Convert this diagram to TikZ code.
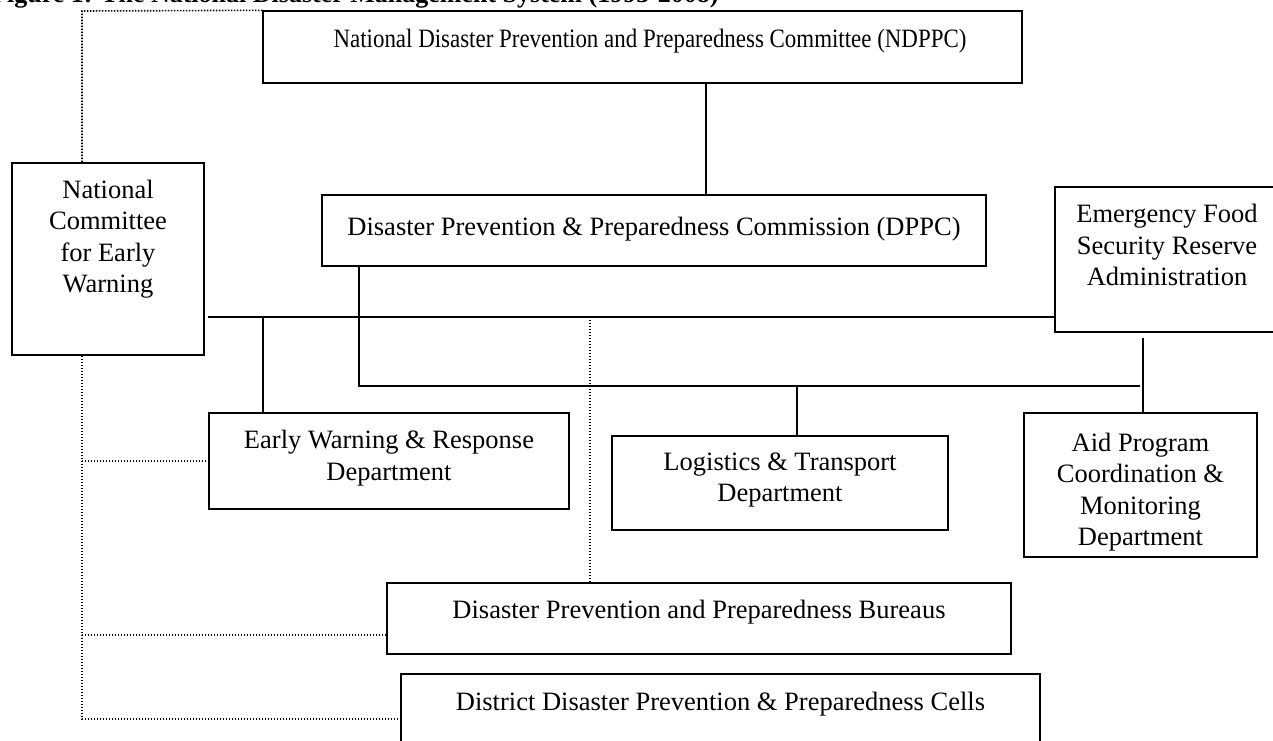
\documentclass[tikz,border=0pt]{standalone}
\usepackage{fontspec}
\setmainfont{Liberation Serif}
\usetikzlibrary{calc}
\begin{document}
\begin{tikzpicture}[x=1pt,y=-1pt,
  box/.style={draw, line width=1.4pt, rectangle, inner sep=0pt},
  txt/.style={align=center, font=\fontsize{26.5}{31.5}\selectfont, inner sep=0pt},
  link/.style={line width=1.4pt},
  dots/.style={line width=1.6pt, dash pattern=on 1.4pt off 1.6pt}]
\useasboundingbox (0,0) rectangle (1273,740);

% title (cut off at the top)
\node[anchor=base west, inner sep=0pt, font=\fontsize{26}{31}\selectfont\bfseries] (title) at (-9,2) {Figure 1: The National Disaster Management System (1993-2008)};

% boxes
\node[box, minimum width=759pt, minimum height=72pt] (ndppc) at (642.5,47) {};
\node[txt] (ndppc-t) at (650,41) {\scalebox{0.865}[1]{National Disaster Prevention and Preparedness Committee (NDPPC)}};

\node[box, minimum width=664pt, minimum height=71pt] (dppc) at (654,230.5) {};
\node[txt] (dppc-t) at (654,229) {Disaster Prevention \& Preparedness Commission (DPPC)};

\node[box, minimum width=192pt, minimum height=192pt] (ncew) at (108,259) {};
\node[txt] (ncew-t) at (108,239) {National\\Committee\\for Early\\Warning};

\node[box, minimum width=224pt, minimum height=145pt] (efsra) at (1167,259.5) {};
\node[txt] (efsra-t) at (1167,245) {Emergency Food\\Security Reserve\\Administration};

\node[box, minimum width=360pt, minimum height=96pt] (ew) at (389,461) {};
\node[txt] (ew-t) at (389,458) {Early Warning \& Response\\Department};

\node[box, minimum width=336pt, minimum height=94pt] (log) at (780,483) {};
\node[txt] (log-t) at (780,480) {Logistics \& Transport\\Department};

\node[box, minimum width=233pt, minimum height=144pt] (aid) at (1140.5,485) {};
\node[txt] (aid-t) at (1140.5,492) {Aid Program\\Coordination \&\\Monitoring\\Department};

\node[box, minimum width=624pt, minimum height=71pt] (bur) at (699,618.5) {};
\node[txt] (bur-t) at (699,612) {Disaster Prevention and Preparedness Bureaus};

\node[box, minimum width=639pt, minimum height=86pt] (dis) at (720.5,717) {};
\node[txt] (dis-t) at (720.5,704) {District Disaster Prevention \& Preparedness Cells};

% helper coordinates
\coordinate (xtop) at (706,0);
\coordinate (h1) at (208,317);
\coordinate (ewx) at (263,317);
\coordinate (d1) at (359,386);
\coordinate (d2) at (1140,386);
\coordinate (logx) at (797,386);
\coordinate (aidx) at (1143,338);
\coordinate (dl) at (82,11);
\coordinate (dv) at (590,317);

% solid connectors
\draw[link] (ndppc.south -| xtop) -- (dppc.north -| xtop);
\draw[link] (h1) -- (h1 -| efsra.west);
\draw[link] (ewx) -- (ewx |- ew.north);
\draw[link] (d1 |- dppc.south) -- (d1) -- (d2);
\draw[link] (logx) -- (logx |- log.north);
\draw[link] (aidx) -- (aidx |- aid.north);

% dotted connectors
\draw[dots] (ndppc.north west) -- (dl) -- (dl |- ncew.north);
\draw[dots] (dl |- ncew.south) -- (dl |- 0,719) -- (dis.west |- 0,719);
\draw[dots] (dl |- ew.west) -- (ew.west);
\draw[dots] (dl |- 0,635) -- (bur.west |- 0,635);
\draw[dots] (dv) -- (dv |- bur.north);
\end{tikzpicture}
\end{document}
